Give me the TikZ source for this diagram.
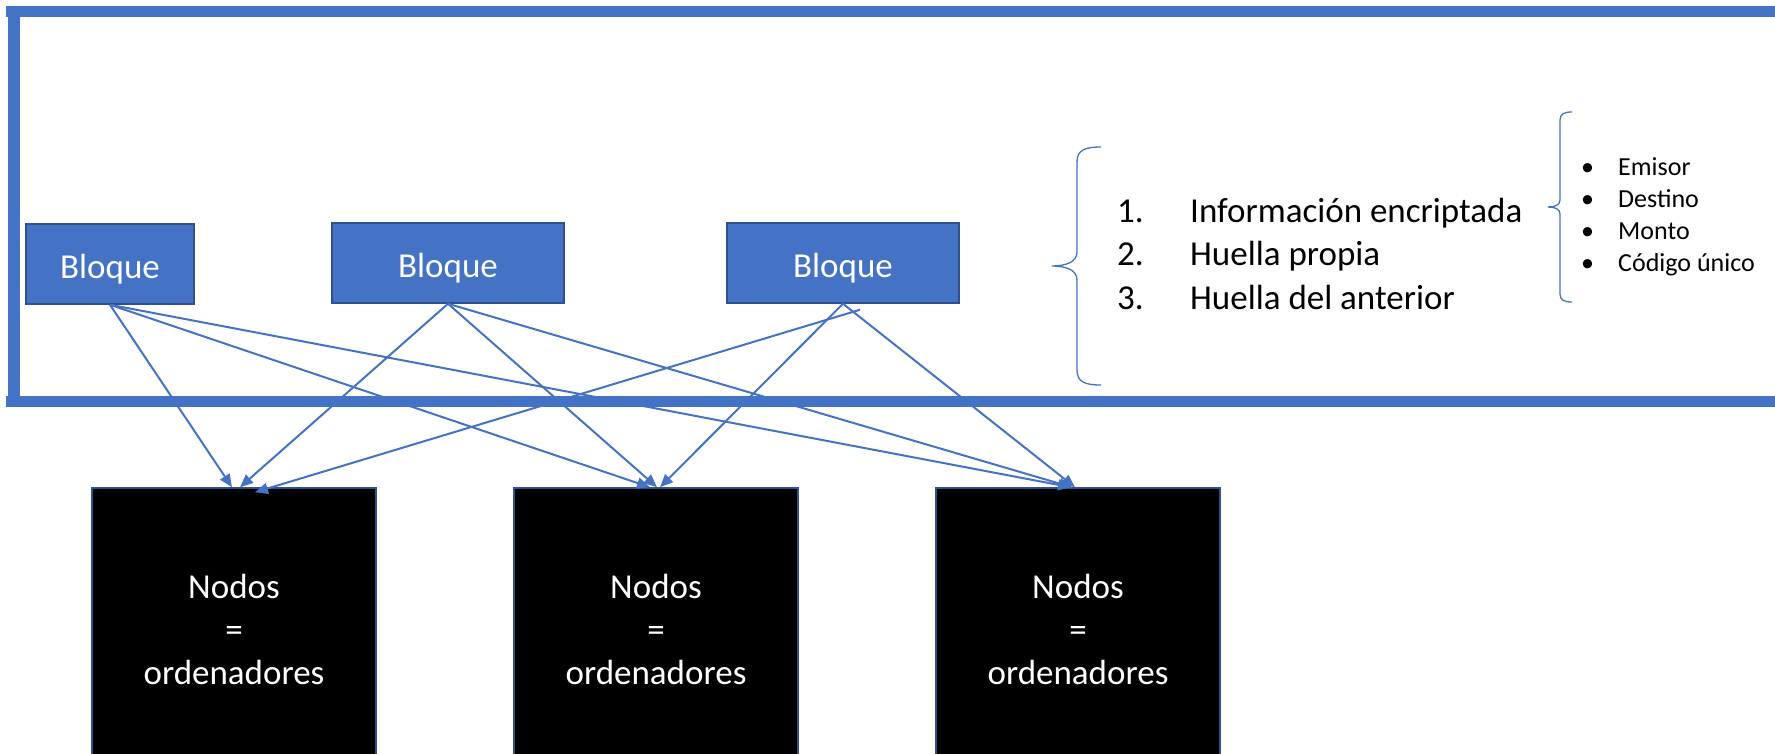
\documentclass[tikz,border=0pt]{standalone}
\usepackage{fontspec}
\setmainfont{Carlito}
\usepackage{tikz}
\usetikzlibrary{arrows.meta,positioning,calc}
\definecolor{azul}{HTML}{4472C4}
\definecolor{azulosc}{HTML}{2F528F}
\tikzset{
  bloque/.style = {draw=azulosc, fill=azul, line width=1.5pt, text=white, minimum width=232pt, minimum height=80pt, inner sep=0pt, text height=29pt, text depth=0pt, font=\fontsize{35}{43}\selectfont},
  nodo/.style = {draw=azulosc, fill=black, line width=1.5pt, text=white, align=center, minimum width=284pt, minimum height=282pt, inner sep=0pt, font=\fontsize{35}{43}\selectfont},
  flecha/.style = {-{Triangle[length=13pt,width=11pt]}, azul, line width=2pt},
  llave/.style = {azul, line width=1.3pt}
}

\begin{document}
\begin{tikzpicture}[x = 1pt, y = -1pt]
\useasboundingbox (0,0) rectangle (1775,754);
% marco
\draw[azul, line width=11pt] (6,11.5) -- (1775,11.5);
\draw[azul, line width=11pt] (6,401.5) -- (1775,401.5);
\draw[azul, line width=12pt] (14,17) -- (14,396);
% bloques
\node[bloque, minimum width=168pt] (b1) at (110,264) {Bloque};
\node[bloque] (b2) at (448,263) {Bloque};
\node[bloque] (b3) at (843,263) {Bloque};
% nodos
\node[nodo] (n1) at (234,629) {Nodos\\=\\ordenadores};
\node[nodo] (n2) at (656,629) {Nodos\\=\\ordenadores};
\node[nodo] (n3) at (1078,629) {Nodos\\=\\ordenadores};
% flechas
\draw[flecha] (b1.south) -- ([xshift=-2pt]n1.north);
\draw[flecha] (b1.south) -- ([xshift=-6pt]n2.north);
\draw[flecha] (b1.south) -- ([xshift=-7pt]n3.north);
\draw[flecha] (b2.south) -- ([xshift=6pt]n1.north);
\draw[flecha] (b2.south) -- ([xshift=1pt]n2.north);
\draw[flecha] (b2.south) -- ([xshift=-6pt]n3.north);
\draw[flecha] ([xshift=17pt,yshift=-6pt]b3.south) -- ([xshift=21pt,yshift=-5pt]n1.north);
\draw[flecha] (b3.south) -- ([xshift=4pt]n2.north);
\draw[flecha] (b3.south) -- ([xshift=-3pt]n3.north);
% llaves
\draw[llave] (1101,147) .. controls (1085,147) and (1077,150) .. (1077,162) -- (1077,252)
  .. controls (1077,262) and (1066,266) .. (1052,266)
  .. controls (1066,266) and (1077,270) .. (1077,280) -- (1077,370)
  .. controls (1077,382) and (1085,385) .. (1101,385);
\draw[llave] (1572,112) .. controls (1564,112) and (1560,114) .. (1560,120) -- (1560,200)
  .. controls (1560,205) and (1555,207) .. (1548,207)
  .. controls (1555,207) and (1560,209) .. (1560,214) -- (1560,294)
  .. controls (1560,300) and (1564,302) .. (1572,302);
% textos
\node[anchor=base west, inner sep=0pt, font=\fontsize{35}{43}\selectfont] (lista) at (1117,223)
  {\begin{tabular}[t]{@{}p{73pt}@{}l@{}}1. & Información encriptada\\2. & Huella propia\\3. & Huella del anterior\end{tabular}};
\node[anchor=base west, inner sep=0pt, font=\fontsize{26}{32}\selectfont] (campos) at (1581,176)
  {\begin{tabular}[t]{@{}p{37pt}@{}l@{}}• & Emisor\\• & Destino\\• & Monto\\• & Código único\end{tabular}};
\end{tikzpicture}
\end{document}
